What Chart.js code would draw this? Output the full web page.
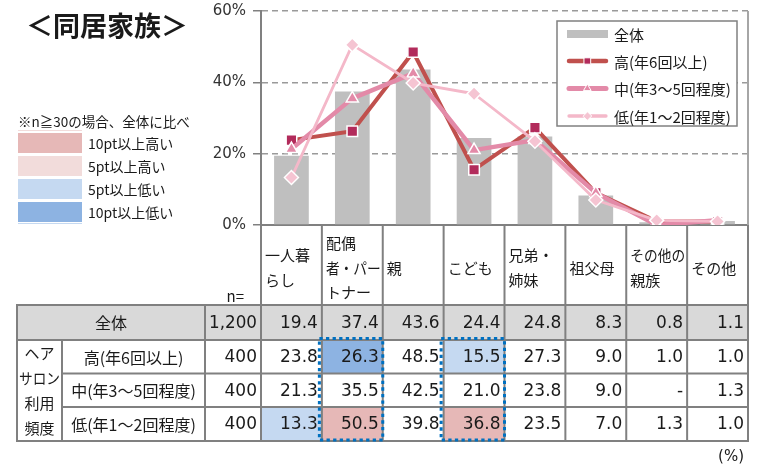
<!DOCTYPE html>
<html>
<head>
<meta charset="utf-8">
<script src="https://cdn.jsdelivr.net/npm/chart.js@4.4.1/dist/chart.umd.min.js"></script>
<style>
  html, body { margin: 0; padding: 0; background: #fff; }
  #wrap { width: 760px; height: 468px; }
</style>
</head>
<body>
<div id="wrap"><canvas id="chart" width="760" height="468"></canvas></div>
<script>
// data
const categories = ['一人暮らし', '配偶者・パートナー', '親', 'こども', '兄弟・姉妹', '祖父母', 'その他の親族', 'その他'];
const categoryLines = [['一人暮', 'らし'], ['配偶', '者・パー', 'トナー'], ['親'], ['こども'], ['兄弟・', '姉妹'], ['祖父母'], ['その他の', '親族'], ['その他']];
const seriesNames = ['全体', '高(年6回以上)', '中(年3～5回程度)', '低(年1～2回程度)'];
const sampleSizes = [1200, 400, 400, 400];
const totalValues = [19.4, 37.4, 43.6, 24.4, 24.8, 8.3, 0.8, 1.1];
const highValues = [23.8, 26.3, 48.5, 15.5, 27.3, 9.0, 1.0, 1.0];
const midValues = [21.3, 35.5, 42.5, 21.0, 23.8, 9.0, null, 1.3];
const lowValues = [13.3, 50.5, 39.8, 36.8, 23.5, 7.0, 1.3, 1.0];
const yTicks = [0, 20, 40, 60];
const groupLabel = ['ヘア', 'サロン', '利用', '頻度'];
const diffLegend = ['10pt以上高い', '5pt以上高い', '5pt以上低い', '10pt以上低い'];
const framedCols = [1, 3];

const JP = '"Noto Sans CJK JP", sans-serif';
const NUM = '"DejaVu Sans", "Noto Sans CJK JP", sans-serif';
const TXT = '#1a1a1a';
const LINE = '#808080';
const diffColors = ['#e6b8b7', '#f2dcdb', '#c5d9f1', '#8db3e2'];

const styles = [
  { color: '#bfbfbf' },
  { color: '#c0504d', point: '#b22b5b', width: 4, style: 'rect', r: 7.5 },
  { color: '#e38aa8', point: '#e38aa8', width: 4.5, style: 'triangle', r: 7 },
  { color: '#f4b8c9', point: '#f5c4d2', width: 2.8, style: 'rectRot', r: 7 }
];

function diffColor(v, base) {
  if (v == null) return null;
  const d = v - base;
  if (d >= 10) return diffColors[0];
  if (d >= 5) return diffColors[1];
  if (d <= -10) return diffColors[3];
  if (d <= -5) return diffColors[2];
  return null;
}

function lineSet(label, data, s, order) {
  return {
    type: 'line', label, data, order,
    borderColor: s.color, borderWidth: s.width, tension: 0,
    borderJoinStyle: 'round', borderCapStyle: 'round',
    pointStyle: s.style, pointRadius: s.r, pointHoverRadius: s.r,
    pointBackgroundColor: s.point, pointBorderColor: '#fff', pointBorderWidth: 1.5
  };
}

const sidePlugin = {
  id: 'side',
  beforeDraw(chart) {
    const ctx = chart.ctx;
    ctx.save();
    // title
    ctx.fillStyle = TXT;
    ctx.font = 'bold 27px ' + JP;
    ctx.textBaseline = 'middle';
    ctx.fillText('＜同居家族＞', 26, 26);
    // diff legend on the left
    ctx.font = '13.5px ' + JP;
    ctx.fillText('※n≧30の場合、全体に比べ', 18, 122, 178);
    ctx.fillStyle = '#f2dcdb';
    ctx.fillRect(18, 130, 64, 1);
    ctx.fillStyle = '#c5d9f1';
    ctx.fillRect(18, 223, 64, 1);
    const rows = [133, 156, 179, 202];
    ctx.font = '14px ' + JP;
    diffLegend.forEach((t, i) => {
      ctx.fillStyle = diffColors[i];
      ctx.fillRect(18, rows[i], 64, 20);
      ctx.fillStyle = TXT;
      ctx.fillText(t, 88, rows[i] + 10.5);
    });
    ctx.restore();
  },
  afterDatasetsDraw(chart) {
    const { ctx, chartArea } = chart;
    ctx.save();
    // right border of the plot
    ctx.strokeStyle = '#a6a6a6';
    ctx.lineWidth = 2;
    ctx.beginPath();
    ctx.moveTo(chartArea.right, chartArea.top);
    ctx.lineTo(chartArea.right, chartArea.bottom);
    ctx.stroke();
    // series legend box
    const bx = 557, by = 21, bw = 180, bh = 105;
    ctx.fillStyle = '#fff';
    ctx.fillRect(bx, by, bw, bh);
    ctx.strokeStyle = LINE;
    ctx.lineWidth = 1.5;
    ctx.strokeRect(bx, by, bw, bh);
    const ys = [34, 61, 88.5, 116];
    seriesNames.forEach((name, i) => {
      const s = styles[i], y = ys[i];
      if (i === 0) {
        ctx.fillStyle = s.color;
        ctx.fillRect(567, y - 4, 41, 8);
      } else {
        ctx.strokeStyle = s.color;
        ctx.lineWidth = s.width + 0.5;
        ctx.lineCap = 'round';
        ctx.beginPath();
        ctx.moveTo(569, y);
        ctx.lineTo(606, y);
        ctx.stroke();
        ctx.fillStyle = s.point;
        ctx.strokeStyle = '#fff';
        ctx.lineWidth = 1;
        Chart.helpers.drawPoint(ctx, { pointStyle: s.style, radius: s.r * 0.6, borderWidth: 1, rotation: 0 }, 587.5, y);
      }
      ctx.fillStyle = TXT;
      ctx.font = '15px ' + JP;
      ctx.textBaseline = 'middle';
      ctx.fillText(name, 614, y + 1);
    });
    ctx.restore();
  },
  afterDraw(chart) {
    const { ctx, chartArea, scales: { x } } = chart;
    const n = categories.length;
    const colW = chartArea.width / n;
    const colL = i => x.getPixelForValue(i) - colW / 2;
    const tL = 17, gR = 62, lR = 205, nR = chartArea.left, tR = chartArea.right;
    const rowY = [305, 340, 373.5, 407, 441];
    const tableRows = [totalValues, highValues, midValues, lowValues];

    ctx.save();
    // backgrounds
    ctx.fillStyle = '#d9d9d9';
    ctx.fillRect(tL, rowY[0], tR - tL, rowY[1] - rowY[0]);
    for (let r = 1; r < 4; r++) {
      tableRows[r].forEach((v, i) => {
        const c = diffColor(v, totalValues[i]);
        if (!c) return;
        ctx.fillStyle = c;
        ctx.fillRect(colL(i), rowY[r], colW, rowY[r + 1] - rowY[r]);
      });
    }
    // grid lines
    ctx.strokeStyle = LINE;
    ctx.lineWidth = 2;
    ctx.beginPath();
    for (let i = 0; i <= n; i++) {
      const xx = i === n ? tR : colL(i);
      ctx.moveTo(xx, chartArea.bottom);
      ctx.lineTo(xx, rowY[4]);
    }
    [tL, lR].forEach(xx => { ctx.moveTo(xx, rowY[0]); ctx.lineTo(xx, rowY[4]); });
    ctx.moveTo(gR, rowY[1]); ctx.lineTo(gR, rowY[4]);
    [0, 1, 4].forEach(k => { ctx.moveTo(tL - 1, rowY[k]); ctx.lineTo(tR + 1, rowY[k]); });
    [2, 3].forEach(k => { ctx.moveTo(gR, rowY[k]); ctx.lineTo(tR + 1, rowY[k]); });
    ctx.stroke();

    // header category labels
    ctx.fillStyle = TXT;
    ctx.textBaseline = 'middle';
    ctx.textAlign = 'left';
    ctx.font = '15px ' + JP;
    categoryLines.forEach((lines, i) => {
      const lh = 24.5;
      const y0 = 268 - (lines.length - 1) * lh / 2;
      lines.forEach((t, k) => ctx.fillText(t, colL(i) + 4, y0 + k * lh, colW - 6));
    });
    ctx.textAlign = 'right';
    ctx.fillText('n=', nR - 17, 296);

    // row labels
    ctx.textAlign = 'center';
    ctx.font = '16px ' + JP;
    ctx.fillText(seriesNames[0], (tL + lR) / 2, (rowY[0] + rowY[1]) / 2);
    for (let r = 1; r < 4; r++) {
      ctx.fillText(seriesNames[r], (gR + lR) / 2, (rowY[r] + rowY[r + 1]) / 2 + 1, lR - gR - 6);
    }
    ctx.font = '15px ' + JP;
    groupLabel.forEach((t, k) => ctx.fillText(t, (tL + gR) / 2, 353 + k * 25, gR - tL - 4));

    // numbers
    ctx.textAlign = 'right';
    ctx.font = '17px ' + NUM;
    tableRows.forEach((vals, r) => {
      const cy = (rowY[r] + rowY[r + 1]) / 2 + 1;
      ctx.fillText(sampleSizes[r].toLocaleString('en-US'), nR - 4, cy, nR - lR - 8);
      vals.forEach((v, i) => {
        ctx.fillText(v == null ? '-' : v.toFixed(1), colL(i) + colW - 4, cy);
      });
    });
    ctx.font = '15px ' + NUM;
    ctx.fillText('(%)', 744, 457);

    // dotted frames
    ctx.strokeStyle = '#0070c0';
    ctx.lineWidth = 3;
    ctx.setLineDash([3.3, 3.3]);
    framedCols.forEach(i => {
      ctx.strokeRect(colL(i) - 2.5, rowY[1] - 1.5, colW + 2.5, rowY[4] - rowY[1] + 0.5);
    });
    ctx.restore();
  }
};

new Chart(document.getElementById('chart'), {
  type: 'bar',
  data: {
    labels: categories,
    datasets: [
      {
        type: 'bar', label: seriesNames[0], data: totalValues, order: 4,
        backgroundColor: styles[0].color, barPercentage: 0.57, categoryPercentage: 1
      },
      lineSet(seriesNames[1], highValues, styles[1], 3),
      lineSet(seriesNames[2], midValues.map(v => v == null ? 0 : v), styles[2], 2),
      lineSet(seriesNames[3], lowValues, styles[3], 1)
    ]
  },
  options: {
    responsive: false,
    animation: false,
    devicePixelRatio: 1,
    layout: { padding: { top: 11, right: 12, left: 0, bottom: 0 } },
    plugins: { legend: { display: false }, tooltip: { enabled: false } },
    scales: {
      x: {
        ticks: { display: false },
        grid: { display: false },
        border: { display: true, color: LINE, width: 2 },
        afterFit: s => { s.height = 468 - 225; s.paddingLeft = 0; s.paddingRight = 0; }
      },
      y: {
        min: 0, max: 60,
        afterFit: s => { s.width = 261; s.paddingTop = 0; s.paddingBottom = 0; },
        afterBuildTicks: s => { s.ticks = yTicks.map(v => ({ value: v })); },
        ticks: {
          callback: v => v + '%', color: '#333', padding: 7,
          font: { family: 'DejaVu Sans', size: 15 }
        },
        grid: {
          color: c => c.tick && c.tick.value === 0 ? 'rgba(0,0,0,0)' : '#9a9a9a',
          lineWidth: 1.5, tickLength: 8, tickColor: LINE, tickWidth: 1.5, tickBorderDash: []
        },
        border: { display: true, color: LINE, width: 2, dash: [6, 4] }
      }
    }
  },
  plugins: [sidePlugin]
});
</script>
</body>
</html>
